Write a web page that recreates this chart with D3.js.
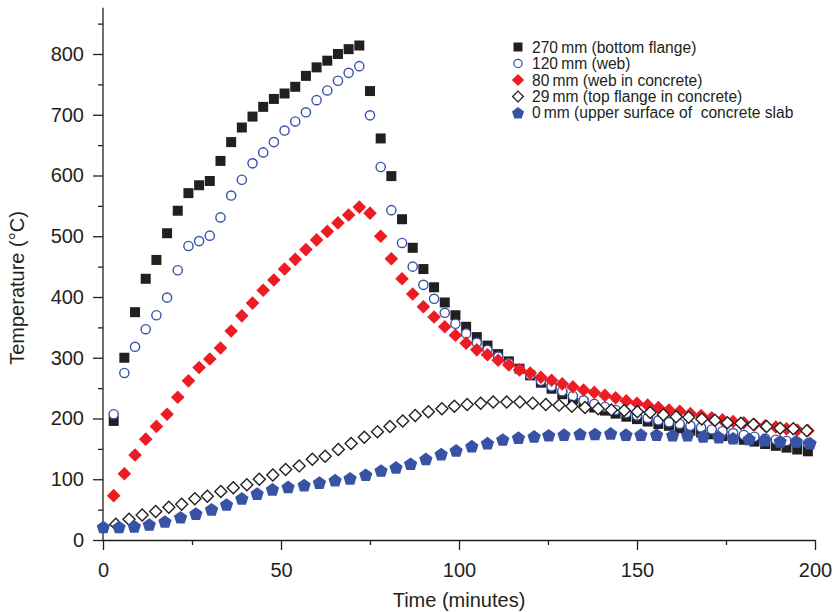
<!DOCTYPE html>
<html>
<head>
<meta charset="utf-8">
<script src="https://cdn.jsdelivr.net/npm/d3@7"></script>
<style>
  body { margin: 0; background: #fff; }
  svg { display: block; font-family: "Liberation Sans", Arial, Helvetica, sans-serif; }
  .axis path, .axis line { stroke: #231f20; stroke-width: 1.3; }
  .axis text { font-size: 20px; fill: #231f20; }
  .legend text { font-size: 15.6px; fill: #231f20; white-space: pre; }
</style>
</head>
<body>
<div id="chart"></div>
<script>
// sample times (min) for 270, 120 and 80 mm
const times3 = [3, 6, 9, 12, 15, 18, 21, 24, 27, 30, 33, 36, 39, 42, 45, 48, 51, 54, 57, 60, 63, 66, 69, 72,
  75, 78, 81, 84, 87, 90, 93, 96, 99, 102, 105, 108, 111, 114, 117, 120, 123,
  126, 129, 132, 135, 138, 141, 144, 147, 150, 153, 156, 159, 162, 165, 168, 171, 174, 177, 180, 183, 186, 189, 192, 195, 198];

const bottomFlange = [196, 300, 375, 430, 461, 505, 542, 571, 584, 591, 624, 655, 679, 697, 713, 726, 735, 746, 764, 778, 789, 800, 808, 814,
  739, 661, 599, 528, 481, 446, 416, 391, 370, 351, 334, 320, 306, 294, 282, 271, 259,
  249, 240, 232, 225, 218, 213, 208, 203, 199, 195, 191, 188, 184, 180, 177, 174, 171, 168, 165, 162, 158, 155, 152, 149, 146];

const web = [207, 275, 318, 347, 370, 399, 444, 484, 492, 501, 531, 567, 593, 620, 638, 655, 674, 689, 704, 724, 740, 756, 769, 780,
  699, 614, 543, 489, 450, 420, 397, 374, 356, 340, 325, 313, 302, 291, 281, 272, 262,
  253, 245, 237, 230, 224, 219, 214, 209, 205, 201, 197, 194, 191, 188, 185, 182, 179, 176, 173, 170, 167, 165, 163, 161, 159];

const webConcrete = [73, 109, 140, 166, 187, 207, 235, 262, 284, 298, 316, 344, 369, 390, 411, 428, 446, 462, 478, 494, 508, 522, 535, 548,
  538, 500, 463, 430, 405, 384, 367, 351, 337, 324, 313, 305, 296, 288, 280, 275, 268,
  263, 257, 252, 247, 243, 238, 234, 229, 225, 222, 218, 214, 212, 208, 205, 201, 198, 195, 193, 190, 188, 186, 183, 181, 180];

// 29 mm (top flange in concrete)
const topFlangeTimes = [3.6, 7.3, 11, 14.8, 18.5, 22.1, 25.8, 29.3, 33.1, 36.6, 40.4, 43.9, 47.7, 51.3, 55.1, 58.8, 62.4, 66.1, 69.7,
  73.4, 77.1, 80.6, 84.2, 87.7, 91.4, 95.2, 98.7, 102.3, 106.1, 109.6, 113.4, 117.1, 120.7, 124.4, 128.1, 131.7, 135.4,
  139.1, 142.8, 146.4, 150.1, 153.7, 157.4, 161, 164.5, 168.2, 171.9, 175.4, 179.2, 182.7, 186.4, 190.2, 193.9, 197.7];
const topFlange = [26, 34, 41, 47, 54, 59, 68, 72, 80, 86, 91, 100, 107, 116, 122, 133, 138, 149, 159,
  169, 178, 187, 196, 205, 211, 216, 220, 223, 225, 227, 227, 227, 225, 223, 222, 220, 218,
  216, 214, 213, 211, 210, 206, 203, 202, 199, 197, 193, 192, 190, 187, 184, 183, 180];

// 0 mm (upper surface of slab)
const slabTimes = [0.1, 4.5, 8.8, 13, 17.4, 21.8, 26.1, 30.5, 34.7, 39, 43.3, 47.6, 52, 56.5, 60.8, 65.2, 69.4, 73.8,
  78.1, 82.3, 86.4, 90.7, 95, 99.2, 103.6, 108, 112.3, 116.7, 121.1, 125.2, 129.5, 134, 138.2, 142.6, 146.9,
  151.1, 155.5, 160, 164.2, 168.6, 173, 177, 181.5, 185.9, 190.2, 194.7, 198.6];
const slab = [22, 22, 23, 26, 31, 38, 44, 51, 59, 69, 77, 84, 88, 91, 95, 99, 102, 108,
  115, 120, 126, 134, 142, 148, 155, 160, 166, 169, 171, 173, 174, 175, 175, 176, 174,
  174, 174, 173, 173, 171, 170, 168, 167, 165, 163, 163, 160];

const legendLabels = [
  "270\u2009mm (bottom flange)",
  "120\u2009mm (web)",
  "80\u2009mm (web in concrete)",
  "29\u2009mm (top flange in concrete)",
  "0\u2009mm (upper surface of  concrete slab"
];

const xTicks = [0, 50, 100, 150, 200];
const xMinor = [25, 75, 125, 175];
const yTicks = [0, 100, 200, 300, 400, 500, 600, 700, 800];
const yMinor = [50, 150, 250, 350, 450, 550, 650, 750, 850];

const width = 834, height = 612;

const svg = d3.select("#chart").append("svg")
  .attr("width", width)
  .attr("height", height);

const x = d3.scaleLinear().domain([0, 200]).range([103, 815]);
const y = d3.scaleLinear().domain([0, 800]).range([540, 54]);

// marker shapes
function pentagon(r) {
  const pts = d3.range(5).map(i => {
    const a = -Math.PI / 2 + i * 2 * Math.PI / 5;
    return [r * Math.cos(a), r * Math.sin(a) + 1];
  });
  return "M" + pts.map(p => p.join(",")).join("L") + "Z";
}
const shapes = [
  { path: "M-5,-5H5V5H-5Z", fill: "#231f20", stroke: "none", sw: 0 },
  { path: d3.symbol(d3.symbolCircle, Math.PI * 4.6 * 4.6)(), fill: "#fff", stroke: "#3454a8", sw: 1.4 },
  { path: "M0,-6.8L6.8,0L0,6.8L-6.8,0Z", fill: "#ed1c24", stroke: "none", sw: 0 },
  { path: "M0,-6L6,0L0,6L-6,0Z", fill: "#fff", stroke: "#231f20", sw: 1.4 },
  { path: pentagon(7), fill: "#3853a5", stroke: "none", sw: 0 }
];

const series = [
  { t: times3, v: bottomFlange },
  { t: times3, v: web },
  { t: times3, v: webConcrete },
  { t: topFlangeTimes, v: topFlange },
  { t: slabTimes, v: slab }
];

// axes
const yAxis = svg.append("g").attr("class", "axis")
  .attr("transform", "translate(103,0)")
  .call(d3.axisLeft(y).tickValues(yTicks).tickSize(10).tickPadding(9).tickSizeOuter(0));
yAxis.select(".domain").remove();
svg.append("g").attr("class", "axis")
  .attr("transform", "translate(103,0)")
  .call(d3.axisLeft(y).tickValues(yMinor).tickSize(5).tickFormat(""))
  .select(".domain").remove();
svg.append("line")
  .attr("x1", 103).attr("x2", 103)
  .attr("y1", y(0)).attr("y2", y(876))
  .attr("stroke", "#231f20").attr("stroke-width", 1.3);

const xAxis = svg.append("g").attr("class", "axis")
  .attr("transform", "translate(0,540)")
  .call(d3.axisBottom(x).tickValues(xTicks).tickSize(10).tickPadding(13).tickSizeOuter(0));
svg.append("g").attr("class", "axis")
  .attr("transform", "translate(0,540)")
  .call(d3.axisBottom(x).tickValues(xMinor).tickSize(5).tickFormat(""))
  .select(".domain").remove();

// axis titles
svg.append("text")
  .attr("x", 459).attr("y", 607)
  .attr("text-anchor", "middle")
  .attr("font-size", 20).attr("fill", "#231f20")
  .text("Time (minutes)");
svg.append("text")
  .attr("transform", "translate(24,288) rotate(-90)")
  .attr("text-anchor", "middle")
  .attr("font-size", 20).attr("fill", "#231f20")
  .text("Temperature (\u00b0C)");

// points
series.forEach((s, i) => {
  const sh = shapes[i];
  svg.append("g")
    .selectAll("path")
    .data(s.v.map((v, j) => [s.t[j], v]))
    .enter().append("path")
    .attr("d", sh.path)
    .attr("transform", d => `translate(${x(d[0])},${y(d[1])})`)
    .attr("fill", sh.fill)
    .attr("stroke", sh.stroke)
    .attr("stroke-width", sh.sw);
});

// legend
const legend = svg.append("g").attr("class", "legend");
const legendY = [47, 63.5, 80, 96.5, 112.5];
legendLabels.forEach((lab, i) => {
  const sh = shapes[i];
  legend.append("path")
    .attr("d", sh.path)
    .attr("transform", `translate(518,${legendY[i]}) scale(0.9)`)
    .attr("fill", sh.fill)
    .attr("stroke", sh.stroke)
    .attr("stroke-width", sh.sw);
  legend.append("text")
    .attr("x", 532).attr("y", legendY[i])
    .attr("dy", "0.36em")
    .text(lab);
});
</script>
</body>
</html>
